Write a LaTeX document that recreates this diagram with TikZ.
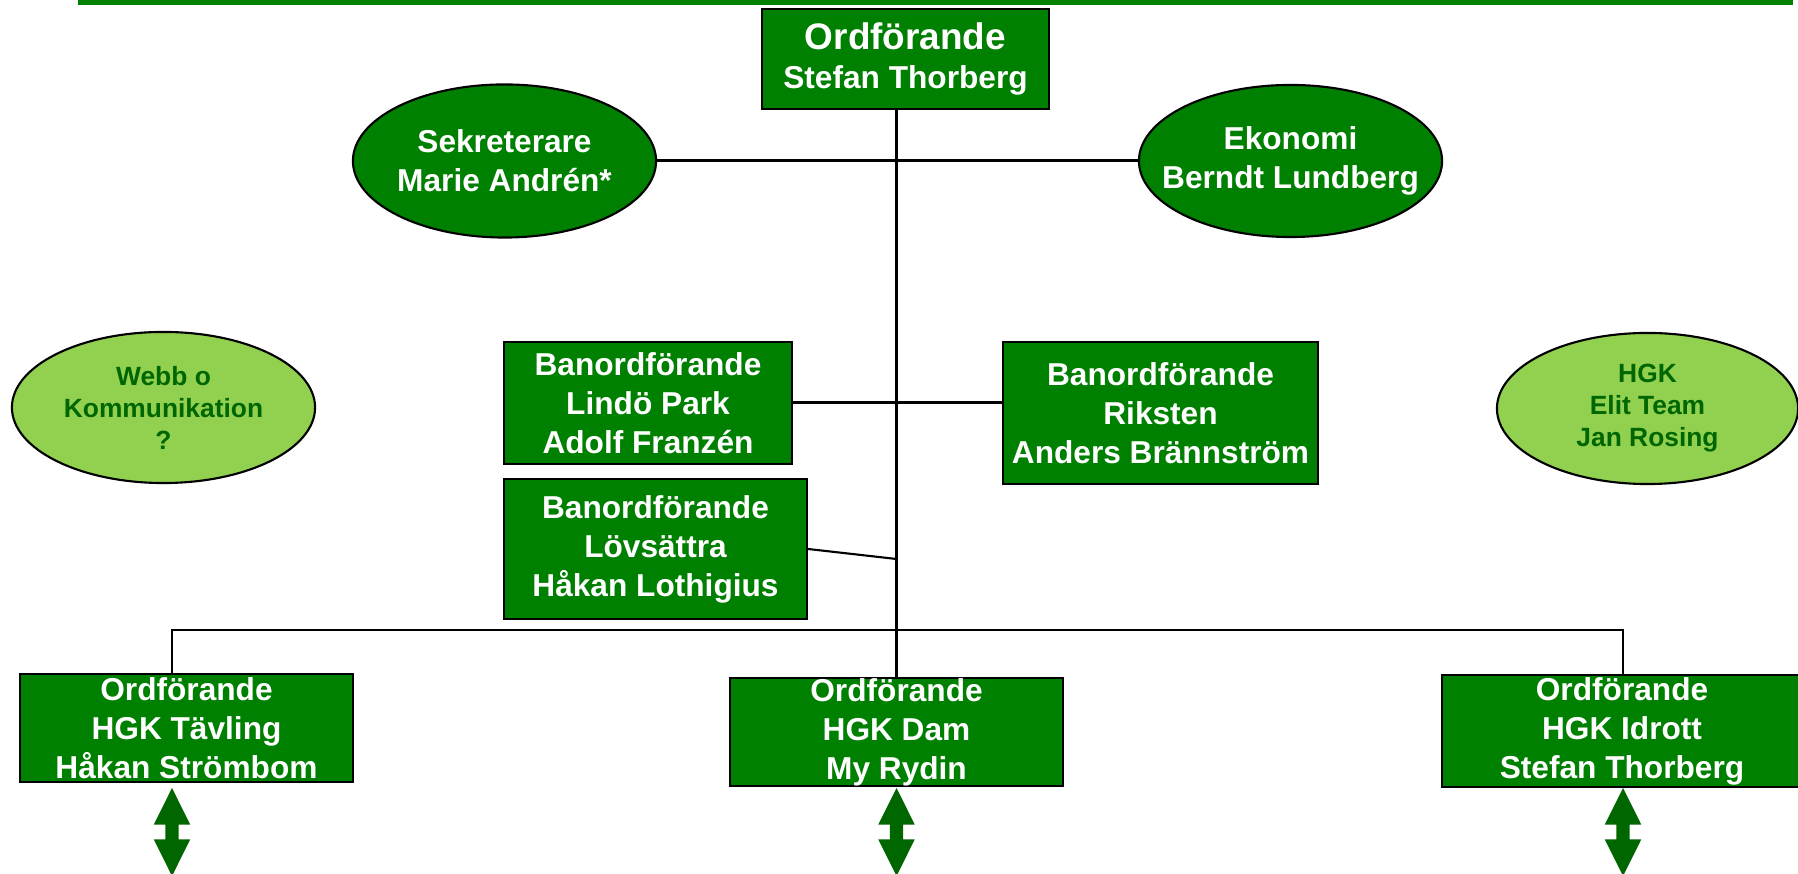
\documentclass[tikz,border=0pt]{standalone}
\usepackage{fontspec}
\setmainfont{Liberation Sans}
\usepackage{tikz}
\usetikzlibrary{positioning,calc,shapes.geometric,shapes.arrows}
\pgfdeclarelayer{bg}
\pgfsetlayers{bg,main}
\definecolor{hgkgreen}{RGB}{0,128,0}
\definecolor{hgklight}{RGB}{146,208,80}
\definecolor{hgkdark}{RGB}{0,102,0}

\tikzset{
  box/.style={draw, line width=0.6pt, fill=hgkgreen, text=white, align=center,
    inner sep=0pt, font=\fontsize{9pt}{11.1pt}\selectfont\bfseries},
  role/.style={ellipse, draw, line width=0.6pt, fill=hgkgreen, text=white, align=center,
    inner xsep=-0.3cm, inner ysep=0pt, font=\fontsize{9pt}{11pt}\selectfont\bfseries},
  aux/.style={ellipse, draw, line width=0.6pt, fill=hgklight, text=hgkdark, align=center,
    inner sep=0pt, font=\fontsize{7.5pt}{9.1pt}\selectfont\bfseries},
  link/.style={line width=0.85pt},
  buslink/.style={line width=0.6pt},
  updown/.style={double arrow, fill=hgkdark, rotate=90, inner xsep=0pt, inner ysep=0.06cm,
    minimum height=0.88cm, minimum width=0.35cm,
    double arrow head extend=0.115cm, double arrow tip angle=53}
}

\begin{document}
\begin{tikzpicture}[x=0.01cm, y=-0.01cm]
    \useasboundingbox (0,0) rectangle (1798,874);
    \fill[hgkgreen] (78,0) rectangle (1793,5);

    \node [box, minimum width=2.87cm, minimum height=1cm] (ordf) at (905.5,59)
      {{\fontsize{10.5pt}{11.1pt}\selectfont Ordförande}\\ Stefan Thorberg};
    \node [role, minimum width=3.03cm, minimum height=1.53cm] (sekr) at (504.5,161)
      {Sekreterare\\ Marie Andrén*};
    \node [role, minimum width=3.03cm, minimum height=1.52cm] (ekon) at (1290.5,161)
      {Ekonomi\\ Berndt Lundberg};
    \node [aux, minimum width=3.03cm, minimum height=1.51cm] (webb) at (163.5,407.5)
      {Webb o\\ Kommunikation\\ ?};
    \node [aux, minimum width=3.01cm, minimum height=1.51cm] (elit) at (1647.5,408.5)
      {HGK\\ Elit Team\\ Jan Rosing};
    \node [box, minimum width=2.88cm, minimum height=1.22cm] (lindo) at (648,403)
      {Banordförande\\ Lindö Park\\ Adolf Franzén};
    \node [box, minimum width=3.15cm, minimum height=1.42cm] (riksten) at (1160.5,413)
      {Banordförande\\ Riksten\\ Anders Brännström};
    \node [box, minimum width=3.03cm, minimum height=1.4cm] (lovsattra) at (655.5,549)
      {Banordförande\\ Lövsättra\\ Håkan Lothigius};
    \node [box, minimum width=3.33cm, minimum height=1.08cm] (tavling) at (186.5,728)
      {Ordförande\\ HGK Tävling\\ Håkan Strömbom};
    \node [box, minimum width=3.33cm, minimum height=1.06cm] (dam) at (896.5,732)
      {Ordförande\\ HGK Dam\\ My Rydin};
    \node [box, minimum width=3.6cm, minimum height=1.12cm] (idrott) at (1622,731)
      {Ordförande\\ HGK Idrott\\ Stefan Thorberg};

    \node [updown] (tavarrow) at (172,832) {};
    \node [updown] (damarrow) at (896.5,832) {};
    \node [updown] (idrarrow) at (1623,832) {};

    \coordinate (lovjoin) at (896.5,559);
    \coordinate (busL) at (172,630);
    \coordinate (busR) at (1623,630);

    \begin{pgfonlayer}{bg}    % connectors behind the boxes
        \draw [link] (ordf.south -| dam.north) -- (dam.north);
        \draw [link] (sekr) -- (ekon);
        \draw [link] (lindo.east) -- (lindo.east -| riksten.west);
        \draw [buslink] (lovsattra.east) -- (lovjoin);
        \draw [buslink] (tavling.north -| busL) -- (busL) -- (busR) -- (idrott.north -| busR);
    \end{pgfonlayer}
\end{tikzpicture}
\end{document}
